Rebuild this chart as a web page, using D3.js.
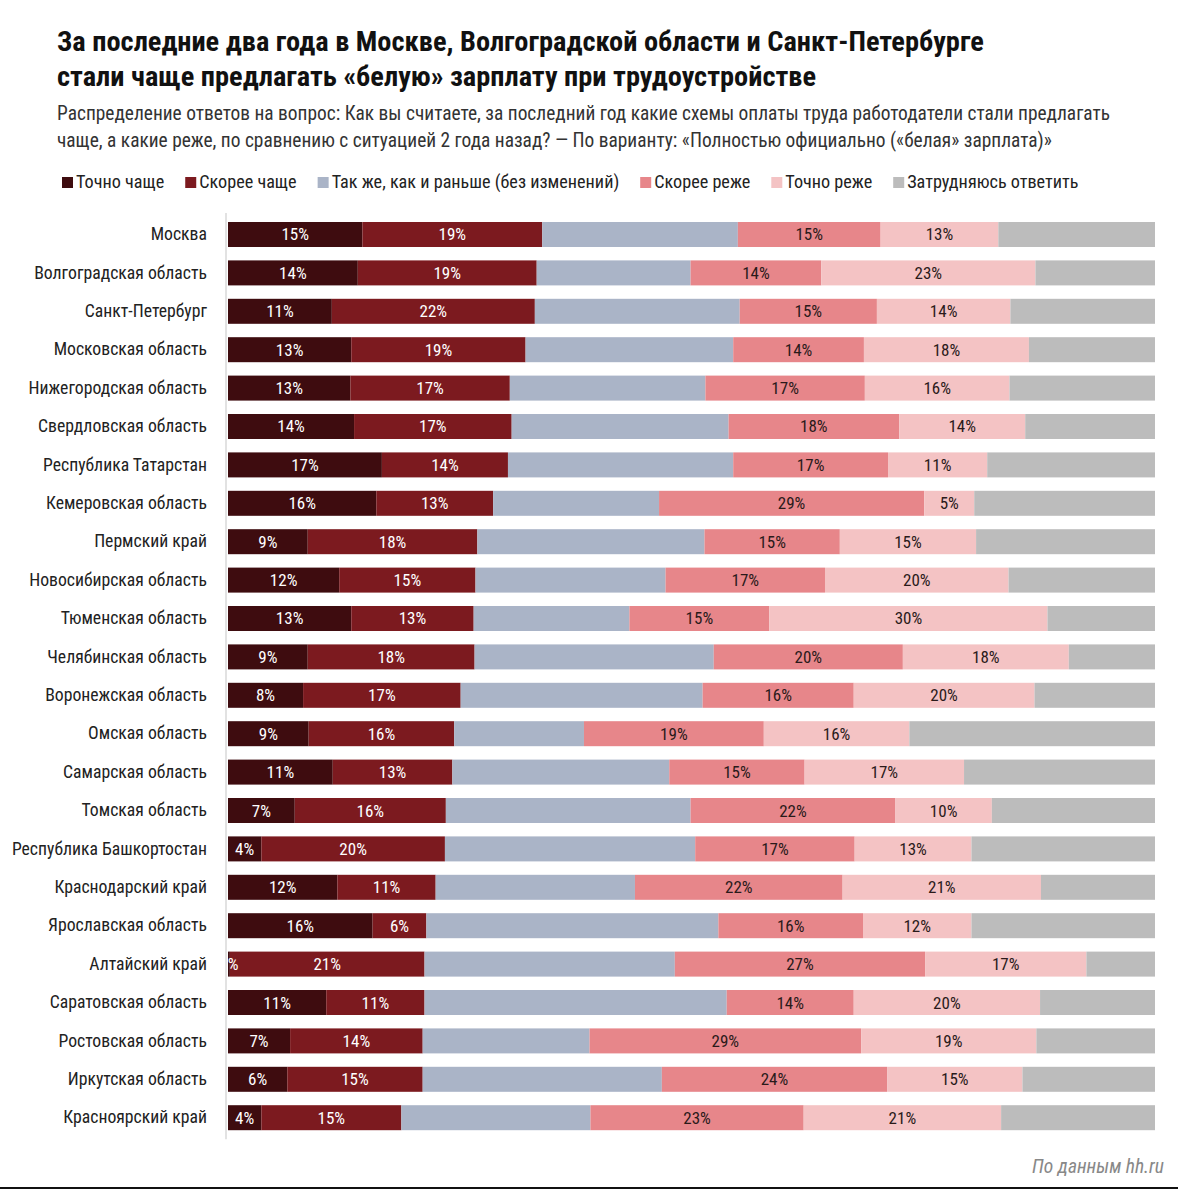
<!DOCTYPE html>
<html>
<head>
<meta charset="utf-8">
<script src="https://cdn.jsdelivr.net/npm/d3@7"></script>
<style>
  html, body { margin: 0; padding: 0; background: #fff; }
  svg { display: block; }
  text { font-family: "Liberation Sans Narrow", "Roboto Condensed", "Arial Narrow", "Liberation Sans", sans-serif; }
</style>
</head>
<body>
<svg id="chart" width="1178" height="1193"></svg>
<script>
const titleLines = [
  "За последние два года в Москве, Волгоградской области и Санкт-Петербурге",
  "стали чаще предлагать «белую» зарплату при трудоустройстве"
];
const subtitleLines = [
  "Распределение ответов на вопрос: Как вы считаете, за последний год какие схемы оплаты труда работодатели стали предлагать",
  "чаще, а какие реже, по сравнению с ситуацией 2 года назад? — По варианту: «Полностью официально («белая» зарплата)»"
];
const source = "По данным hh.ru";

const seriesNames = ["Точно чаще", "Скорее чаще", "Так же, как и раньше (без изменений)", "Скорее реже", "Точно реже", "Затрудняюсь ответить"];
const seriesColors = ["#3e0c0f", "#7c1a1f", "#aab4c7", "#e7868a", "#f4c3c4", "#bcbcbc"];
const labelColors = ["#ffffff", "#ffffff", null, "#2a1a1a", "#2a1a1a", null];

const regions = ["Москва", "Волгоградская область", "Санкт-Петербург", "Московская область", "Нижегородская область",
  "Свердловская область", "Республика Татарстан", "Кемеровская область", "Пермский край", "Новосибирская область",
  "Тюменская область", "Челябинская область", "Воронежская область", "Омская область", "Самарская область",
  "Томская область", "Республика Башкортостан", "Краснодарский край", "Ярославская область", "Алтайский край",
  "Саратовская область", "Ростовская область", "Иркутская область", "Красноярский край"];

const tochnoChashe  = [14.5, 14.0, 11.2, 13.3, 13.2, 13.6, 16.6, 16.0, 8.6, 12.0, 13.3, 8.6, 8.1, 8.7, 11.3, 7.2, 3.6, 11.8, 15.6, 0.2, 10.6, 6.7, 6.4, 3.6];
const skoreeChashe  = [19.4, 19.3, 21.9, 18.8, 17.2, 17.0, 13.6, 12.6, 18.3, 14.7, 13.2, 18.0, 17.0, 15.7, 12.9, 16.3, 19.8, 10.6, 5.8, 21.0, 10.6, 14.3, 14.6, 15.1];
const takZhe        = [21.1, 16.6, 22.1, 22.4, 21.1, 23.4, 24.3, 17.9, 24.5, 20.5, 16.8, 25.8, 26.1, 14.0, 23.4, 26.4, 27.0, 21.5, 31.5, 27.0, 32.6, 18.0, 25.8, 20.4];
const skoreeRezhe   = [15.4, 14.1, 14.8, 14.1, 17.2, 18.4, 16.7, 28.6, 14.6, 17.2, 15.1, 20.4, 16.3, 19.4, 14.6, 22.1, 17.2, 22.4, 15.6, 27.0, 13.7, 29.3, 24.3, 23.0];
const tochnoRezhe   = [12.7, 23.1, 14.4, 17.8, 15.6, 13.6, 10.7, 5.4, 14.7, 19.8, 30.0, 17.9, 19.5, 15.7, 17.2, 10.4, 12.6, 21.4, 11.7, 17.4, 20.1, 18.9, 14.6, 21.3];
const zatrudnyayus  = [16.9, 12.9, 15.6, 13.6, 15.7, 14.0, 18.1, 19.5, 19.3, 15.8, 11.6, 9.3, 13.0, 26.5, 20.6, 17.6, 19.8, 12.3, 19.8, 7.4, 12.4, 12.8, 14.3, 16.6];

const seriesValues = [tochnoChashe, skoreeChashe, takZhe, skoreeRezhe, tochnoRezhe, zatrudnyayus];

const rows = regions.map((r, i) => {
  const o = { region: r };
  seriesNames.forEach((s, k) => { o[s] = seriesValues[k][i]; });
  return o;
});

const svg = d3.select("#chart");
const W = 1178, H = 1193;
const margin = { left: 228, right: 23 };
const bandTop = 222, bandBottom = 1130.2;

// Title
titleLines.forEach((t, i) => {
  svg.append("text").attr("x", 57).attr("y", 51 + i * 35)
    .attr("font-size", 28.4).attr("font-weight", "bold").attr("fill", "#111").text(t);
});
subtitleLines.forEach((t, i) => {
  svg.append("text").attr("x", 57).attr("y", 120 + i * 27)
    .attr("font-size", 19.4).attr("fill", "#333").text(t);
});

// Legend
const legend = svg.append("g").attr("transform", "translate(62,182)");
let lx = 0;
seriesNames.forEach((s, k) => {
  const g = legend.append("g").attr("transform", `translate(${lx},0)`);
  g.append("rect").attr("x", 0).attr("y", -5).attr("width", 11).attr("height", 11).attr("fill", seriesColors[k]);
  const t = g.append("text").attr("x", 14).attr("y", 6).attr("font-size", 18.2).attr("fill", "#222").text(s);
  lx += 14 + t.node().getComputedTextLength() + 21;
});

// Scales
const x = d3.scaleLinear().domain([0, 100]).range([margin.left, W - margin.right]);
const y = d3.scaleBand().domain(regions).range([bandTop, bandBottom]).paddingInner(0.349).paddingOuter(0);

const stacked = d3.stack().keys(seriesNames)(rows);

svg.append("defs").append("clipPath").attr("id", "plotclip")
  .append("rect").attr("x", margin.left).attr("y", 0).attr("width", W - margin.right - margin.left).attr("height", H);

// axis line
svg.append("line").attr("x1", margin.left - 2).attr("x2", margin.left - 2)
  .attr("y1", bandTop - 9).attr("y2", bandBottom + 9)
  .attr("stroke", "#d9d9d9").attr("stroke-width", 1.5);

const plot = svg.append("g").attr("clip-path", "url(#plotclip)");
const barsG = plot.append("g");
const labelsG = plot.append("g");

stacked.forEach((layer, k) => {
  barsG.append("g").selectAll("rect").data(layer).join("rect")
    .attr("x", d => x(d[0]))
    .attr("width", d => x(d[1]) - x(d[0]))
    .attr("y", d => y(d.data.region))
    .attr("height", y.bandwidth())
    .attr("fill", seriesColors[k]);
  if (labelColors[k]) {
    labelsG.append("g").selectAll("text").data(layer).join("text")
      .attr("x", d => (x(d[0]) + x(d[1])) / 2)
      .attr("y", d => y(d.data.region) + y.bandwidth() / 2 + 6)
      .attr("text-anchor", "middle")
      .attr("font-size", 17)
      .attr("fill", labelColors[k])
      .text(d => Math.round(d.data[seriesNames[k]]) + "%");
  }
});

// Category axis
const yAxis = d3.axisLeft(y).tickSize(0).tickPadding(0);
const ya = svg.append("g").attr("transform", `translate(${margin.left - 21},0)`).call(yAxis);
ya.select(".domain").remove();
ya.selectAll("text").attr("font-size", 17.7).attr("fill", "#222")
  .style("font-family", '"Liberation Sans Narrow", "Roboto Condensed", "Arial Narrow", sans-serif');

// Source
svg.append("text").attr("x", 1164).attr("y", 1173).attr("text-anchor", "end")
  .attr("font-size", 19.5).attr("font-style", "italic").attr("fill", "#888").text(source);

// bottom rule
svg.append("line").attr("x1", 0).attr("x2", W).attr("y1", 1188).attr("y2", 1188)
  .attr("stroke", "#111").attr("stroke-width", 2);
</script>
</body>
</html>
